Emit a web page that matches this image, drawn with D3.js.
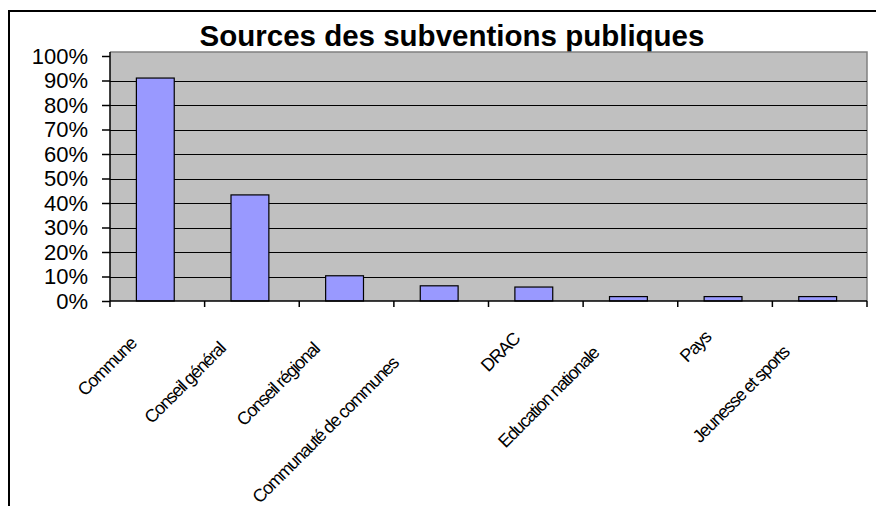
<!DOCTYPE html>
<html>
<head>
<meta charset="utf-8">
<script src="https://cdn.jsdelivr.net/npm/d3@7"></script>
<style>
  body { margin: 0; background: #fff; }
  text { font-family: "Liberation Sans", Arial, sans-serif; fill: #000; }
</style>
</head>
<body>
<svg width="876" height="506"></svg>
<script>
// Chart data
const categories = ["Commune", "Conseil général", "Conseil régional", "Communauté de communes",
    "DRAC", "Education nationale", "Pays", "Jeunesse et sports"];
const shares = [0.91, 0.433, 0.103, 0.062, 0.057, 0.018, 0.018, 0.018];
const yTicks = [0, 0.1, 0.2, 0.3, 0.4, 0.5, 0.6, 0.7, 0.8, 0.9, 1];
const title = "Sources des subventions publiques";

const svg = d3.select("svg");
const width = +svg.attr("width");
const height = +svg.attr("height");

const plot = { left: 110, right: 867, top: 52, bottom: 301 };

const x = d3.scaleBand().domain(categories).range([plot.left, plot.right]).padding(0);
const y = d3.scaleLinear().domain([0, 1]).range([plot.bottom, 56]);

// outer chart frame (runs off the right and bottom edge)
svg.append("rect")
    .attr("x", 9).attr("y", 11)
    .attr("width", width + 20).attr("height", height + 20)
    .attr("fill", "#fff")
    .attr("stroke", "#000")
    .attr("stroke-width", 2);

// title, drawn first so the plot area hides the descenders
svg.append("text")
    .attr("x", 452).attr("y", 46)
    .attr("text-anchor", "middle")
    .style("font-size", "29.5px")
    .style("font-weight", "bold")
    .text(title);

// plot background
svg.append("rect")
    .attr("x", plot.left).attr("y", plot.top)
    .attr("width", plot.right - plot.left).attr("height", plot.bottom - plot.top)
    .attr("fill", "#c0c0c0");

// top + right border in grey
svg.append("path")
    .attr("d", `M${plot.left},${plot.top}H${plot.right}V${plot.bottom}`)
    .attr("fill", "none")
    .attr("stroke", "#808080")
    .attr("stroke-width", 1.5);

// gridlines
svg.append("g")
    .selectAll("line")
    .data(yTicks.filter(d => d > 0 && d < 1))
    .join("line")
    .attr("x1", plot.left).attr("x2", plot.right)
    .attr("y1", d => Math.round(y(d)) + 0.5).attr("y2", d => Math.round(y(d)) + 0.5)
    .attr("stroke", "#000")
    .attr("stroke-width", 1);

// bars
const barW = x.bandwidth() * 0.4;
svg.append("g")
    .selectAll("rect")
    .data(categories)
    .join("rect")
    .attr("x", (d, i) => x(d) + x.bandwidth() / 2 - barW / 2 - 2)
    .attr("y", (d, i) => y(shares[i]))
    .attr("width", barW)
    .attr("height", (d, i) => y(0) - y(shares[i]))
    .attr("fill", "#9999ff")
    .attr("stroke", "#000")
    .attr("stroke-width", 1.2);

// y axis
const yAxis = svg.append("g")
    .attr("transform", `translate(${plot.left},0)`)
    .call(d3.axisLeft(y).tickValues(yTicks).tickFormat(d3.format(".0%")).tickSize(8).tickPadding(14));
yAxis.select(".domain").attr("d", `M0,${plot.top}V${plot.bottom}`).attr("stroke-width", 1.5);
yAxis.selectAll(".tick line").attr("stroke-width", 1.5);
yAxis.selectAll("text")
    .style("font-size", "22px")
    .style("font-family", "'Liberation Sans', Arial, sans-serif");

// x axis: ticks at band boundaries
const bounds = categories.map(d => x(d)).concat([plot.right]);
svg.append("line")
    .attr("x1", plot.left).attr("x2", plot.right)
    .attr("y1", plot.bottom).attr("y2", plot.bottom)
    .attr("stroke", "#000").attr("stroke-width", 1.5);
svg.append("g")
    .selectAll("line")
    .data(bounds)
    .join("line")
    .attr("x1", d => d).attr("x2", d => d)
    .attr("y1", plot.bottom).attr("y2", plot.bottom + 6)
    .attr("stroke", "#000").attr("stroke-width", 1.5);

// rotated category labels, staggered a bit with their length like the original
svg.append("g")
    .selectAll("text")
    .data(categories)
    .join("text")
    .attr("text-anchor", "end")
    .style("font-size", "18px")
    .style("letter-spacing", "-1.3px")
    .text(d => d)
    .attr("transform", function (d) {
        const L = this.getComputedTextLength();
        const cx = x(d) + x.bandwidth() / 2;
        return `translate(${cx - 7 - 0.176 * L},${333 + 0.16 * L}) rotate(-45)`;
    });
</script>
</body>
</html>
